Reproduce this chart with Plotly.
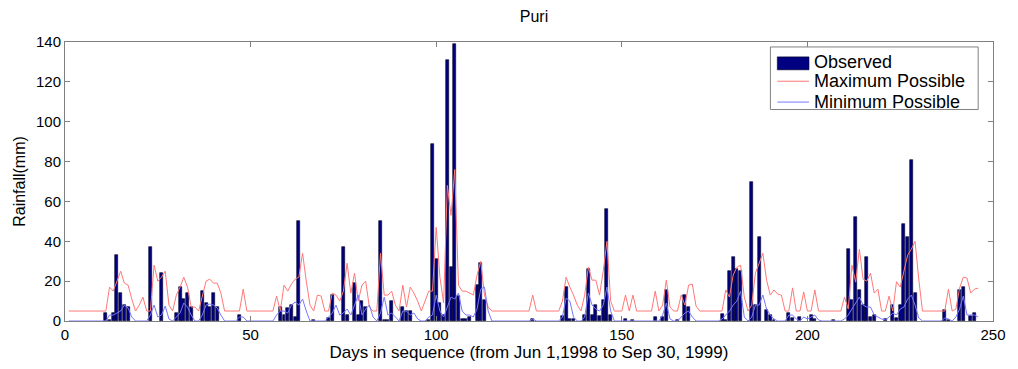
import plotly.graph_objects as go

days = list(range(1, 247))

max_possible = [
    5, 5, 5, 5, 5, 5, 5, 5, 5, 5,
    5, 17, 15, 20, 25, 19, 18, 11, 5, 8,
    12, 5, 5, 28, 20, 22, 25, 8, 5, 13,
    17, 22, 17, 7, 7, 5, 13, 20, 21, 19,
    19, 14, 5, 5, 5, 5, 5, 16, 5, 5,
    5, 5, 5, 5, 5, 5, 12.5, 5, 18, 15,
    18.5, 21, 22, 34, 20, 8, 5, 13, 12.5, 5,
    5, 14, 13, 10, 15, 29, 14, 24, 10, 18,
    20, 7, 5, 5, 34, 13, 13, 15, 8, 5,
    18, 7, 17, 14, 10, 5, 10, 15, 15, 47,
    22, 9, 68, 53, 76, 18, 15, 15, 14, 13,
    23, 30, 13, 7, 5, 5, 5, 5, 5, 5,
    5, 5, 5, 5, 5, 13, 5, 5, 5, 5,
    5, 5, 5, 10, 22, 17, 13, 8, 5, 13,
    27, 20.5, 20.5, 13, 25, 40, 10, 5, 5, 5,
    13, 5, 13, 5, 5, 5, 5, 5, 15, 5,
    8, 20.5, 7, 5, 5, 13, 8, 18, 18.5, 7.5,
    5, 5, 5, 5, 5, 5, 5, 15.6, 12, 23,
    27, 28, 12, 5, 8, 24, 29, 34, 20.5, 13,
    15.6, 13.5, 13, 5, 5, 16.6, 5, 5, 14.6, 5,
    5, 15.6, 5, 5, 5, 5, 5, 5, 5, 12,
    6, 28, 19.5, 36, 21, 20, 24, 14, 16, 5,
    5, 12.5, 5, 19.7, 17, 25, 33, 36, 40, 21,
    5, 5, 5, 5, 5, 5, 5, 16, 5, 6,
    16.5, 22, 21.5, 14, 16, 16.5,
]

min_possible = [
    0, 0, 0, 0, 0, 0, 0, 0, 0, 0,
    0, 3, 3, 4, 5, 8, 6.5, 2, 0, 0,
    0, 0, 3, 8, 2, 3, 7.5, 1, 0, 2,
    4, 9, 7, 3, 0, 0, 3, 8, 8.5, 8,
    6.5, 3, 0, 0, 0, 0, 2, 2, 0, 0,
    0, 0, 0, 0, 0, 0, 3, 5, 5, 4,
    8, 9.5, 8, 11, 5, 0, 0, 0, 0, 0,
    2, 4, 8, 3, 4, 6, 3, 8, 13, 3,
    6, 8, 2, 0, 4, 12, 3, 4, 2, 0,
    5, 5, 3, 4, 1, 0, 0, 2, 3, 13,
    5, 2, 7, 12, 11, 14, 5, 3, 3, 2,
    6, 16, 17, 5, 0, 0, 0, 0, 0, 0,
    0, 0, 0, 0, 0, 1, 0, 0, 0, 0,
    0, 0, 0, 2, 11.5, 10, 2, 0, 0, 2,
    14, 8, 6, 5, 8, 17, 5, 0, 0, 0,
    0, 0, 0, 0, 0, 0, 0, 0, 0, 0,
    3, 9, 1, 0, 0, 2, 4, 5, 2, 0,
    0, 0, 0, 0, 0, 0, 1, 3, 5, 8,
    10, 15, 2, 0, 2, 8, 8, 13, 6, 3,
    1, 0, 0, 0, 3, 3, 1, 0, 2, 1,
    2, 3, 0.5, 0, 0, 0, 0, 0, 0, 1,
    3, 6, 9, 12, 8, 7, 7, 3, 2, 1,
    0.5, 2, 4, 3, 6, 7, 11, 13, 8, 1.5,
    0, 0, 0, 0, 0, 0, 1.5, 1, 0, 2,
    6, 12.5, 3, 3, 3, 2,
]

obs_days = [11, 12, 13, 14, 15, 16, 17, 23, 26, 30, 31, 32, 33, 34, 37, 38, 39, 40, 41, 47,
            58, 59, 60, 61, 62, 63, 67, 71, 72, 75, 76, 78, 79, 80, 81, 85, 86, 87, 88,
            91, 92, 93, 98, 99, 100, 101, 102, 103, 104, 105, 106, 107, 108, 109, 111, 112, 113,
            126, 134, 135, 136, 137, 140, 141, 142, 143, 144, 145, 146, 147, 151, 153, 159, 161,
            162, 165, 167, 168, 177, 178, 179, 180, 181, 182, 185, 186, 187, 189, 190, 191, 195,
            196, 198, 201, 202, 207, 211, 212, 213, 214, 215, 216, 217, 218, 221, 223, 224, 225,
            226, 227, 228, 229, 237, 238, 241, 242, 244, 245]
obs_mm = [4, 0.5, 4, 33, 14, 8, 7, 37, 24, 4, 17, 11, 14, 7, 15, 9, 7, 14, 7, 3,
          7, 3, 6.5, 8, 2, 50, 0.5, 1.5, 13, 37, 3, 19, 3, 10, 7, 50, 0.5, 0.5, 10,
          7, 5, 5, 0.5, 89, 31, 9, 3, 131, 27, 139, 12.5, 1, 1, 2, 18, 29, 10.5,
          1, 2.5, 17, 1, 1, 3, 26, 3, 8, 2.5, 10.6, 56, 3, 1, 0.5, 2, 2,
          15.6, 0.5, 13, 7, 3.5, 0.5, 25, 32, 26, 25, 70, 8, 42, 5.3, 3, 0.5, 4,
          1.5, 2, 3, 1, 0.5, 36, 10.5, 52, 15.5, 8, 32, 2, 3, 1, 8, 1.5, 8,
          48.5, 42, 81, 14, 5.5, 0.5, 15.5, 17, 2.5, 4]

x_ticks = [0, 50, 100, 150, 200, 250]
y_ticks = [0, 20, 40, 60, 80, 100, 120, 140]
legend_labels = ["Observed", "Maximum Possible", "Minimum Possible"]

FONT = "Liberation Sans, Arial, sans-serif"
AXIS_GREY = "#808080"
NAVY = "#000080"
RED = "rgb(255,120,120)"
BLUE = "rgb(120,120,255)"

W, H = 1018, 369
L, R, T, B = 65, 15, 42, 46
PW, PH = W - L - R, H - T - B


def px(x):
    return (x - L) / PW


def py(y):
    return (H - B - y) / PH


fig = go.Figure()
fig.add_trace(go.Bar(
    x=obs_days, y=obs_mm, name=legend_labels[0], width=0.8, showlegend=False,
    marker=dict(color=NAVY, line=dict(color="#000020", width=0.6)),
))
fig.add_trace(go.Scatter(
    x=days, y=max_possible, name=legend_labels[1], mode="lines", showlegend=False,
    line=dict(color=RED, width=1),
))
fig.add_trace(go.Scatter(
    x=days, y=min_possible, name=legend_labels[2], mode="lines", showlegend=False,
    line=dict(color=BLUE, width=1),
))

# MATLAB-style legend box drawn by hand
shapes = [
    dict(type="rect", xref="paper", yref="paper", layer="above",
         x0=px(778), x1=px(988), y0=py(110), y1=py(47),
         fillcolor="white", line=dict(color=AXIS_GREY, width=1)),
    dict(type="rect", xref="paper", yref="paper", layer="above",
         x0=px(785), x1=px(817), y0=py(70), y1=py(57),
         fillcolor=NAVY, line=dict(color="#000020", width=0.6)),
    dict(type="line", xref="paper", yref="paper", layer="above",
         x0=px(785), x1=px(817), y0=py(81.5), y1=py(81.5),
         line=dict(color=RED, width=1)),
    dict(type="line", xref="paper", yref="paper", layer="above",
         x0=px(785), x1=px(817), y0=py(102.5), y1=py(102.5),
         line=dict(color=BLUE, width=1)),
]
annotations = [
    dict(text=lab, xref="paper", yref="paper", x=px(820), y=py(yc),
         xanchor="left", yanchor="middle", showarrow=False,
         font=dict(size=18, family=FONT, color="black"))
    for lab, yc in zip(legend_labels, [62.5, 81.5, 102.5])
]

fig.update_layout(
    width=W, height=H,
    margin=dict(l=L, r=R, t=T, b=B),
    paper_bgcolor="white", plot_bgcolor="white",
    font=dict(family=FONT, size=15, color="black"),
    title=dict(text="Puri", x=(L + W - R) / 2 / W, xanchor="center",
               y=1 - 16 / H, yanchor="middle", yref="container",
               font=dict(size=16, family=FONT)),
    bargap=0,
    showlegend=False,
    shapes=shapes,
    annotations=annotations,
)
fig.update_xaxes(
    range=[0, 250], tickvals=x_ticks, ticks="inside", ticklen=5,
    tickcolor=AXIS_GREY, showline=True, linecolor=AXIS_GREY, linewidth=1,
    mirror="ticks", showgrid=False, zeroline=False,
    tickfont=dict(size=15),
    title=dict(text="Days in sequence (from Jun 1,1998 to Sep 30, 1999)",
               font=dict(size=17, family=FONT), standoff=2),
)
fig.update_yaxes(
    range=[0, 140], tickvals=y_ticks, ticks="inside", ticklen=5,
    tickcolor=AXIS_GREY, showline=True, linecolor=AXIS_GREY, linewidth=1,
    mirror="ticks", showgrid=False, zeroline=False,
    tickfont=dict(size=15),
    title=dict(text="Rainfall(mm)", font=dict(size=16, family=FONT), standoff=6),
)

fig.write_html("out.html")
